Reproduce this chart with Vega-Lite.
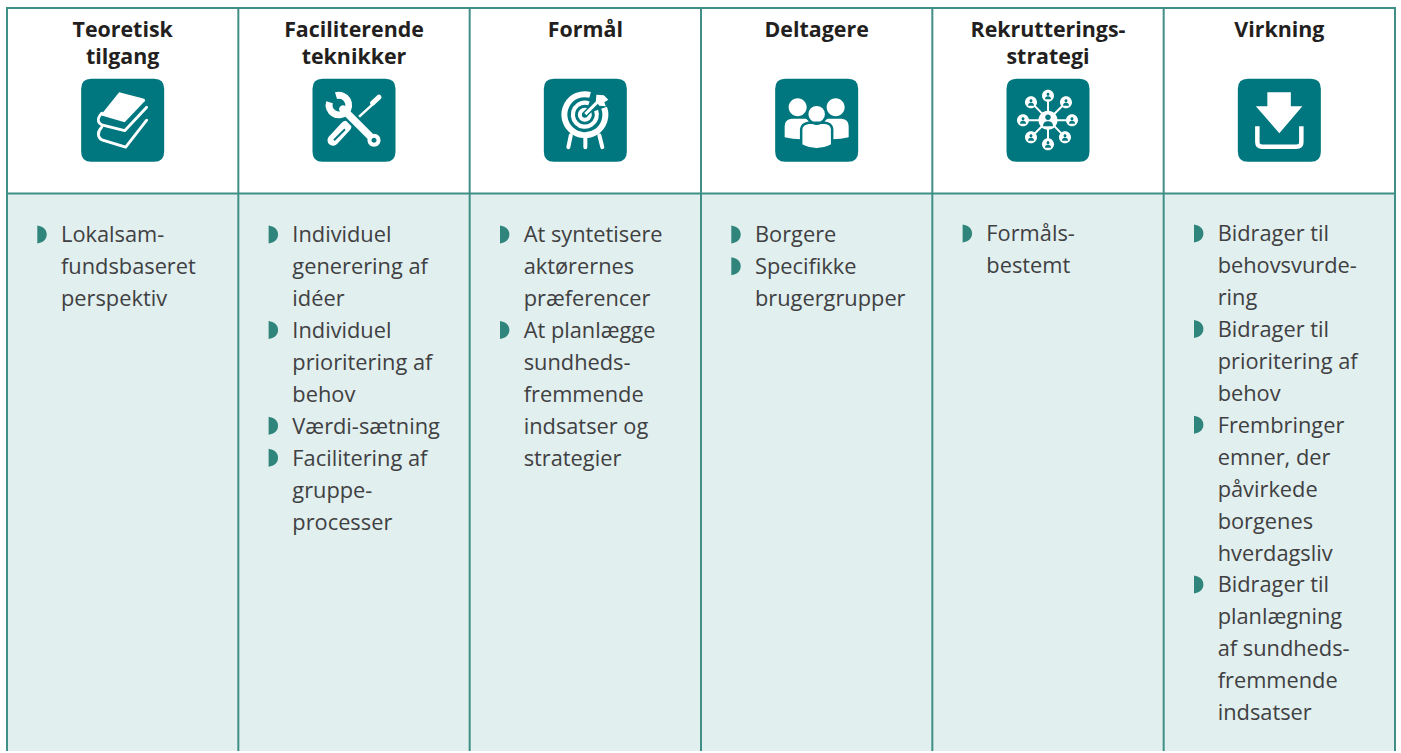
{"$schema":"https://vega.github.io/schema/vega-lite/v6.json","autosize":{"type":"fit","contains":"padding"},"width":1401,"height":753,"padding":0,"background":"#ffffff","config":{"view":{"stroke":null}},
"data":{"values":[
{"kind":"bg","col":0,"colEnd":6,"line":-1.25,"lineEnd":16.22},
{"kind":"h","col":0,"colEnd":6,"line":-7.06},{"kind":"h","col":0,"colEnd":6,"line":-1.25},
{"kind":"v","col":0,"line":-7.09,"lineEnd":16.22},{"kind":"v","col":1,"line":-7.09,"lineEnd":16.22},{"kind":"v","col":2,"line":-7.09,"lineEnd":16.22},{"kind":"v","col":3,"line":-7.09,"lineEnd":16.22},{"kind":"v","col":4,"line":-7.09,"lineEnd":16.22},{"kind":"v","col":5,"line":-7.09,"lineEnd":16.22},{"kind":"v","col":6,"line":-7.09,"lineEnd":16.22},
{"kind":"head","col":0.5,"line":-6.156,"text":"Teoretisk"},{"kind":"head","col":0.5,"line":-5.3125,"text":"tilgang"},
{"kind":"head","col":1.5,"line":-6.156,"text":"Faciliterende"},{"kind":"head","col":1.5,"line":-5.3125,"text":"teknikker"},
{"kind":"head","col":2.5,"line":-6.156,"text":"Formål"},
{"kind":"head","col":3.5,"line":-6.156,"text":"Deltagere"},
{"kind":"head","col":4.5,"line":-6.156,"text":"Rekrutterings-"},{"kind":"head","col":4.5,"line":-5.3125,"text":"strategi"},
{"kind":"head","col":5.5,"line":-6.156,"text":"Virkning"},
{"kind":"box","icon":"book","col":0.5,"line":-3.547},{"kind":"box","icon":"tools","col":1.5,"line":-3.547},{"kind":"box","icon":"target","col":2.5,"line":-3.547},{"kind":"box","icon":"people","col":3.5,"line":-3.547},{"kind":"box","icon":"network","col":4.5,"line":-3.547},{"kind":"box","icon":"download","col":5.5,"line":-3.547},
{"kind":"body","col":0,"line":0,"text":"Lokalsam-","bullet":true},{"kind":"body","col":0,"line":1,"text":"fundsbaseret"},{"kind":"body","col":0,"line":2,"text":"perspektiv"},
{"kind":"body","col":1,"line":0,"text":"Individuel","bullet":true},{"kind":"body","col":1,"line":1,"text":"generering af"},{"kind":"body","col":1,"line":2,"text":"idéer"},{"kind":"body","col":1,"line":3,"text":"Individuel","bullet":true},{"kind":"body","col":1,"line":4,"text":"prioritering af"},{"kind":"body","col":1,"line":5,"text":"behov"},{"kind":"body","col":1,"line":6,"text":"Værdi-sætning","bullet":true},{"kind":"body","col":1,"line":7,"text":"Facilitering af","bullet":true},{"kind":"body","col":1,"line":8,"text":"gruppe-"},{"kind":"body","col":1,"line":9,"text":"processer"},
{"kind":"body","col":2,"line":0,"text":"At syntetisere","bullet":true},{"kind":"body","col":2,"line":1,"text":"aktørernes"},{"kind":"body","col":2,"line":2,"text":"præferencer"},{"kind":"body","col":2,"line":3,"text":"At planlægge","bullet":true},{"kind":"body","col":2,"line":4,"text":"sundheds-"},{"kind":"body","col":2,"line":5,"text":"fremmende"},{"kind":"body","col":2,"line":6,"text":"indsatser og"},{"kind":"body","col":2,"line":7,"text":"strategier"},
{"kind":"body","col":3,"line":0,"text":"Borgere","bullet":true},{"kind":"body","col":3,"line":1,"text":"Specifikke","bullet":true},{"kind":"body","col":3,"line":2,"text":"brugergrupper"},
{"kind":"body","col":4,"line":0,"text":"Formåls-","bullet":true},{"kind":"body","col":4,"line":1,"text":"bestemt"},
{"kind":"body","col":5,"line":0,"text":"Bidrager til","bullet":true},{"kind":"body","col":5,"line":1,"text":"behovsvurde-"},{"kind":"body","col":5,"line":2,"text":"ring"},{"kind":"body","col":5,"line":3,"text":"Bidrager til","bullet":true},{"kind":"body","col":5,"line":4,"text":"prioritering af"},{"kind":"body","col":5,"line":5,"text":"behov"},{"kind":"body","col":5,"line":6,"text":"Frembringer","bullet":true},{"kind":"body","col":5,"line":7,"text":"emner, der"},{"kind":"body","col":5,"line":8,"text":"påvirkede"},{"kind":"body","col":5,"line":9,"text":"borgenes"},{"kind":"body","col":5,"line":10,"text":"hverdagsliv"},{"kind":"body","col":5,"line":11,"text":"Bidrager til","bullet":true},{"kind":"body","col":5,"line":12,"text":"planlægning"},{"kind":"body","col":5,"line":13,"text":"af sundheds-"},{"kind":"body","col":5,"line":14,"text":"fremmende"},{"kind":"body","col":5,"line":15,"text":"indsatser"}
]},
"encoding":{
"x":{"field":"col","type":"quantitative","axis":null,"scale":{"domain":[-0.03026,6.0259],"nice":false,"zero":false}},
"y":{"field":"line","type":"quantitative","axis":null,"scale":{"domain":[-7.3125,16.21875],"reverse":true,"nice":false,"zero":false}}
},
"layer":[
{"transform":[{"filter":"datum.kind==='bg'"}],"mark":{"type":"rect","color":"#e1efee"},"encoding":{"x2":{"field":"colEnd"},"y2":{"field":"lineEnd"}}},
{"transform":[{"filter":"datum.kind==='h'"}],"mark":{"type":"rule","color":"#3f8f86","strokeWidth":2},"encoding":{"x2":{"field":"colEnd"}}},
{"transform":[{"filter":"datum.kind==='v'"}],"mark":{"type":"rule","color":"#3f8f86","strokeWidth":2},"encoding":{"y2":{"field":"lineEnd"}}},
{"transform":[{"filter":"datum.kind==='head'"}],"mark":{"type":"text","font":"Open Sans","fontWeight":"bold","fontSize":21.4,"color":"#231f20","align":"center","baseline":"alphabetic"},"encoding":{"text":{"field":"text"}}},
{"transform":[{"filter":"datum.kind==='body' && datum.col<4"}],"mark":{"type":"text","font":"Open Sans","fontSize":21.8,"color":"#404042","align":"left","baseline":"alphabetic","xOffset":54,"yOffset":9},"encoding":{"text":{"field":"text"}}},
{"transform":[{"filter":"datum.kind==='body' && datum.col>=4"}],"mark":{"type":"text","font":"Open Sans","fontSize":21.8,"color":"#404042","align":"left","baseline":"alphabetic","xOffset":54,"yOffset":8},"encoding":{"text":{"field":"text"}}},
{"transform":[{"filter":"datum.bullet && datum.col<4"}],"mark":{"type":"point","shape":"M-4.7,-9 C0.5,-8 4.7,-5.5 4.7,0 C4.7,5.5 0.5,8 -4.7,9 Z","filled":true,"size":4,"opacity":1,"color":"#2f857b","xOffset":35,"yOffset":1}},
{"transform":[{"filter":"datum.bullet && datum.col>=4"}],"mark":{"type":"point","shape":"M-4.7,-9 C0.5,-8 4.7,-5.5 4.7,0 C4.7,5.5 0.5,8 -4.7,9 Z","filled":true,"size":4,"opacity":1,"color":"#2f857b","xOffset":35}},
{"transform":[{"filter":"datum.kind==='box'"}],"mark":{"type":"point","shape":"M-31.5,-41.5 L31.5,-41.5 Q41.5,-41.5 41.5,-31.5 L41.5,31.5 Q41.5,41.5 31.5,41.5 L-31.5,41.5 Q-41.5,41.5 -41.5,31.5 L-41.5,-31.5 Q-41.5,-41.5 -31.5,-41.5 Z","filled":true,"size":4,"opacity":1,"color":"#00777f"}},

{"transform":[{"filter":"datum.icon==='book'"}],"mark":{"type":"point","shape":"M-3.5,-28 L21.5,-21.5 Q23,-21 22,-19 L2,2 L-22,-5 Z","filled":true,"size":4,"opacity":1,"color":"#ffffff"}},
{"transform":[{"filter":"datum.icon==='book'"}],"mark":{"type":"point","shape":"M-21,-7 C-27,0 -24,3 -20,5 L2,10.5 L24,-13 M-21,7 C-26,12 -25,18 -20,20 L3,27 L24,0","filled":false,"size":4,"opacity":1,"stroke":"#ffffff","strokeWidth":2.8,"strokeCap":"round","strokeJoin":"round"}},

{"transform":[{"filter":"datum.icon==='tools'"}],"mark":{"type":"point","shape":"M-8,6 L-21,20","filled":false,"size":4,"opacity":1,"stroke":"#ffffff","strokeWidth":11,"strokeCap":"round"}},
{"transform":[{"filter":"datum.icon==='tools'"}],"mark":{"type":"point","shape":"M-9,9 L-20,20","filled":false,"size":4,"opacity":1,"stroke":"#00777f","strokeWidth":2}},
{"transform":[{"filter":"datum.icon==='tools'"}],"mark":{"type":"point","shape":"M-3,4 L20,-17","filled":false,"size":4,"opacity":1,"stroke":"#ffffff","strokeWidth":2.5}},
{"transform":[{"filter":"datum.icon==='tools'"}],"mark":{"type":"point","shape":"M18.5,-17 L25,-23","filled":false,"size":4,"opacity":1,"stroke":"#ffffff","strokeWidth":5,"strokeCap":"round"}},
{"transform":[{"filter":"datum.icon==='tools'"}],"mark":{"type":"point","shape":"M-10,-10 L20,20","filled":false,"size":4,"opacity":1,"stroke":"#00777f","strokeWidth":12}},
{"transform":[{"filter":"datum.icon==='tools'"}],"mark":{"type":"point","shape":"M-11,-11 L20,20","filled":false,"size":4,"opacity":1,"stroke":"#ffffff","strokeWidth":7.5,"strokeCap":"round"}},
{"transform":[{"filter":"datum.icon==='tools'"}],"mark":{"type":"point","shape":"M-18,-24.5 A9.8,9.8 0 1,1 -24.5,-18","filled":false,"size":4,"opacity":1,"stroke":"#ffffff","strokeWidth":7}},
{"transform":[{"filter":"datum.icon==='tools'"}],"mark":{"type":"point","shape":"M13.5,20 a6.5,6.5 0 1,0 13,0 a6.5,6.5 0 1,0 -13,0 Z","filled":true,"size":4,"opacity":1,"color":"#ffffff"}},
{"transform":[{"filter":"datum.icon==='tools'"}],"mark":{"type":"point","shape":"M17.5,20 a2.5,2.5 0 1,0 5,0 a2.5,2.5 0 1,0 -5,0 Z","filled":true,"size":4,"opacity":1,"color":"#00777f"}},

{"transform":[{"filter":"datum.icon==='target'"}],"mark":{"type":"point","shape":"M4.8,-25.3 A20.5,20.5 0 1,0 18.8,-12.5","filled":false,"size":4,"opacity":1,"stroke":"#ffffff","strokeWidth":6}},
{"transform":[{"filter":"datum.icon==='target'"}],"mark":{"type":"point","shape":"M3.6,-16.8 A12,12 0 1,0 10.8,-9.6","filled":false,"size":4,"opacity":1,"stroke":"#ffffff","strokeWidth":4.2}},
{"transform":[{"filter":"datum.icon==='target'"}],"mark":{"type":"point","shape":"M-5.5,-5.5 a5,5 0 1,0 10,0 a5,5 0 1,0 -10,0 Z","filled":false,"size":4,"opacity":1,"stroke":"#ffffff","strokeWidth":4}},
{"transform":[{"filter":"datum.icon==='target'"}],"mark":{"type":"point","shape":"M0,-6 L14,-20","filled":false,"size":4,"opacity":1,"stroke":"#00777f","strokeWidth":6}},
{"transform":[{"filter":"datum.icon==='target'"}],"mark":{"type":"point","shape":"M0,-6 L14,-20","filled":false,"size":4,"opacity":1,"stroke":"#ffffff","strokeWidth":3}},
{"transform":[{"filter":"datum.icon==='target'"}],"mark":{"type":"point","shape":"M11,-25.5 L18.5,-25 L23,-20.5 L19,-18 L20.5,-14 L14,-14.5 L10.5,-19 Z","filled":true,"size":4,"opacity":1,"color":"#ffffff"}},
{"transform":[{"filter":"datum.icon==='target'"}],"mark":{"type":"point","shape":"M-14.5,15 L-17,27 M0,17 L0,27 M14,15 L17,27","filled":false,"size":4,"opacity":1,"stroke":"#ffffff","strokeWidth":4,"strokeCap":"round"}},

{"transform":[{"filter":"datum.icon==='people'"}],"mark":{"type":"point","shape":"M-28,-13 a9,9 0 1,0 18,0 a9,9 0 1,0 -18,0 Z M10,-13 a9,9 0 1,0 18,0 a9,9 0 1,0 -18,0 Z M-32,17 L-32,6 Q-32,-1 -25,-1.5 L-11,-1.5 L-3,3 L-16,19 Q-24,19 -32,17 Z M32,17 L32,6 Q32,-1 25,-1.5 L11,-1.5 L3,3 L16,19 Q24,19 32,17 Z","filled":true,"size":4,"opacity":1,"color":"#ffffff"}},
{"transform":[{"filter":"datum.icon==='people'"}],"mark":{"type":"point","shape":"M-9.5,-6 a9.5,9.5 0 1,0 19,0 a9.5,9.5 0 1,0 -19,0 Z M-15.5,9 Q-15,3.5 -8,2.5 L8,2.5 Q15,3 15.5,9 L15.5,25 Q0,33 -15.5,25 Z","filled":true,"size":4,"opacity":1,"fill":"#ffffff","stroke":"#00777f","strokeWidth":2.5}},

{"transform":[{"filter":"datum.icon==='network'"}],"mark":{"type":"point","shape":"M0,-24.5 L0,24 M-25,0 L24,0 M-17,-18 L17,17 M18,-18 L-17,17","filled":false,"size":4,"opacity":1,"stroke":"#ffffff","strokeWidth":2}},
{"transform":[{"filter":"datum.icon==='network'"}],"mark":{"type":"point","shape":"M-9.5,0 a9.5,9.5 0 1,0 19,0 a9.5,9.5 0 1,0 -19,0 Z M-6,-24.5 a6,6 0 1,0 12,0 a6,6 0 1,0 -12,0 Z M18,0 a6,6 0 1,0 12,0 a6,6 0 1,0 -12,0 Z M-6,24 a6,6 0 1,0 12,0 a6,6 0 1,0 -12,0 Z M-31,0 a6,6 0 1,0 12,0 a6,6 0 1,0 -12,0 Z M-23,-18 a6,6 0 1,0 12,0 a6,6 0 1,0 -12,0 Z M12,-18 a6,6 0 1,0 12,0 a6,6 0 1,0 -12,0 Z M-23,17 a6,6 0 1,0 12,0 a6,6 0 1,0 -12,0 Z M11,17 a6,6 0 1,0 12,0 a6,6 0 1,0 -12,0 Z","filled":true,"size":4,"opacity":1,"color":"#ffffff"}},
{"transform":[{"filter":"datum.icon==='network'"}],"mark":{"type":"point","shape":"M-2.8,-3 a2.8,2.8 0 1,0 5.6,0 a2.8,2.8 0 1,0 -5.6,0 Z M-5,6 q0,-5 5,-5 q5,0 5,5 z M-1.5,-26 a1.5,1.5 0 1,0 3,0 a1.5,1.5 0 1,0 -3,0 Z M-3,-21 q0,-3 3,-3 q3,0 3,3 z M22.5,-1.5 a1.5,1.5 0 1,0 3,0 a1.5,1.5 0 1,0 -3,0 Z M21,3.5 q0,-3 3,-3 q3,0 3,3 z M-1.5,22.5 a1.5,1.5 0 1,0 3,0 a1.5,1.5 0 1,0 -3,0 Z M-3,27.5 q0,-3 3,-3 q3,0 3,3 z M-26.5,-1.5 a1.5,1.5 0 1,0 3,0 a1.5,1.5 0 1,0 -3,0 Z M-28,3.5 q0,-3 3,-3 q3,0 3,3 z M-18.5,-19.5 a1.5,1.5 0 1,0 3,0 a1.5,1.5 0 1,0 -3,0 Z M-20,-14.5 q0,-3 3,-3 q3,0 3,3 z M16.5,-19.5 a1.5,1.5 0 1,0 3,0 a1.5,1.5 0 1,0 -3,0 Z M15,-14.5 q0,-3 3,-3 q3,0 3,3 z M-18.5,15.5 a1.5,1.5 0 1,0 3,0 a1.5,1.5 0 1,0 -3,0 Z M-20,20.5 q0,-3 3,-3 q3,0 3,3 z M15.5,15.5 a1.5,1.5 0 1,0 3,0 a1.5,1.5 0 1,0 -3,0 Z M14,20.5 q0,-3 3,-3 q3,0 3,3 z","filled":true,"size":4,"opacity":1,"color":"#00777f"}},

{"transform":[{"filter":"datum.icon==='download'"}],"mark":{"type":"point","shape":"M-12,-28 L11.5,-28 L11.5,-14 L23,-14 L0,13 L-23.5,-14 L-12,-14 Z","filled":true,"size":4,"opacity":1,"color":"#ffffff"}},
{"transform":[{"filter":"datum.icon==='download'"}],"mark":{"type":"point","shape":"M-22,6 L-22,22 Q-22,26.5 -17,26.5 L17,26.5 Q22,26.5 22,22 L22,6","filled":false,"size":4,"opacity":1,"stroke":"#ffffff","strokeWidth":4.5}}
]}
